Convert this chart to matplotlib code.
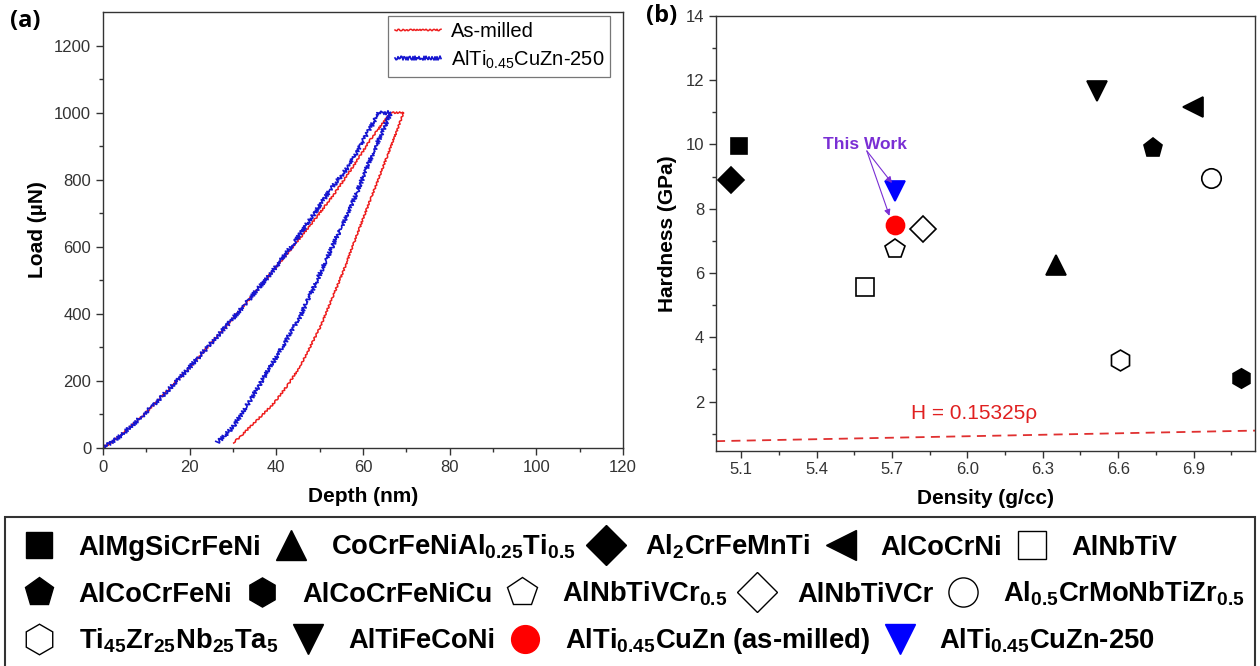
import matplotlib
matplotlib.use('Agg')
import matplotlib.pyplot as plt
from matplotlib.lines import Line2D
from matplotlib.patches import Rectangle
import numpy as np

# (a) load-depth curves: loading -> hold -> unloading
red_depth = [0, 4, 9.3, 14.5, 20.1, 27.5, 33.5, 39.4, 44.5, 49.4, 53.5, 57.8, 61.7, 66.4,
             69.4, 65.6, 61.7, 58.6, 55.6, 50.2, 45.5, 42.5, 39.4, 36.5, 34.0, 31.8, 30.1]
red_load = [0, 36, 98, 165, 242, 349, 439, 531, 610, 690, 760, 840, 919, 1000,
            1000, 870, 740, 635, 531, 362, 243, 185, 133, 95, 64, 35, 16]
blue_depth = [0, 4, 9.3, 14.5, 20.1, 27.5, 33.5, 39.4, 44.3, 48.8, 52.5, 56.7, 60.2, 63.7,
              66.4, 62.0, 57.9, 54.0, 50.5, 45.5, 40.1, 34.0, 30.1, 28.0, 26.3]
blue_load = [0, 36, 98, 165, 242, 349, 439, 531, 615, 700, 770, 840, 919, 1000,
             1000, 870, 740, 630, 531, 392, 273, 143, 64, 35, 16]

# (b) hardness vs density
alloys = ['AlMgSiCrFeNi', r'CoCrFeNiAl$_{\mathregular{0.25}}$Ti$_{\mathregular{0.5}}$',
          r'Al$_{\mathregular{2}}$CrFeMnTi', 'AlCoCrNi', 'AlNbTiV',
          'AlCoCrFeNi', 'AlCoCrFeNiCu', r'AlNbTiVCr$_{\mathregular{0.5}}$', 'AlNbTiVCr',
          r'Al$_{\mathregular{0.5}}$CrMoNbTiZr$_{\mathregular{0.5}}$',
          r'Ti$_{\mathregular{45}}$Zr$_{\mathregular{25}}$Nb$_{\mathregular{25}}$Ta$_{\mathregular{5}}$',
          'AlTiFeCoNi', r'AlTi$_{\mathregular{0.45}}$CuZn (as-milled)',
          r'AlTi$_{\mathregular{0.45}}$CuZn-250']
density = [5.09, 6.354, 5.059, 6.897, 5.591, 6.737, 7.09, 5.713, 5.823, 6.968, 6.607, 6.515, 5.713, 5.713]
hardness = [9.96, 6.25, 8.90, 11.18, 5.58, 9.88, 2.74, 6.74, 7.38, 8.97, 3.29, 11.68, 7.50, 8.55]
markers = ['s', '^', 'D', '<', 's', 'p', 'h', 'p', 'D', 'o', 'h', 'v', 'o', 'v']
faces = ['black', 'black', 'black', 'black', 'white', 'black', 'black', 'white', 'white',
         'white', 'white', 'black', 'red', 'blue']
edges = ['black'] * 12 + ['red', 'blue']
sizes = [12, 14, 13, 14, 13, 14, 14, 15, 13, 14, 15, 14, 13, 15]
legend_rows = [[0, 1, 2, 3, 4], [5, 6, 7, 8, 9], [10, 11, 12, 13]]

slope = 0.15325  # H = 0.15325 * rho

plt.rcParams['font.family'] = ['Liberation Sans', 'DejaVu Sans']

fig = plt.figure(figsize=(12.6, 6.66), dpi=100)
ax1 = fig.add_axes([0.0817, 0.3273, 0.4127, 0.6547])
ax2 = fig.add_axes([0.5683, 0.3233, 0.4278, 0.6527])

# ---- panel (a)
l1, = ax1.plot(red_depth, red_load, color='#ee1c1c', lw=1.1, label='As-milled')
l2, = ax1.plot(blue_depth, blue_load, color='#1515d0', lw=1.2,
               label=r'AlTi$_{\mathregular{0.45}}$CuZn-250')
l1.set_sketch_params(scale=0.8, length=4, randomness=2)
l2.set_sketch_params(scale=2.0, length=3, randomness=2)
ax1.set_xlim(0, 120)
ax1.set_ylim(0, 1300)
ax1.set_xticks(np.arange(0, 121, 20))
ax1.set_xticks(np.arange(10, 120, 20), minor=True)
ax1.set_yticks(np.arange(0, 1201, 200))
ax1.set_yticks(np.arange(100, 1300, 200), minor=True)
ax1.set_xlabel('Depth (nm)', fontsize=15, fontweight='bold', labelpad=9)
ax1.set_ylabel('Load (\u00b5N)', fontsize=15, fontweight='bold', labelpad=5)
leg = ax1.legend(loc='upper right', fontsize=14.5, frameon=True, fancybox=False,
                 handlelength=2.3, handletextpad=0.5, borderpad=0.3, labelspacing=0.35,
                 borderaxespad=0, bbox_to_anchor=(0.976, 0.99))
leg.get_frame().set_edgecolor('#555555')
leg.get_frame().set_linewidth(0.9)

# ---- panel (b)
for i in range(len(density)):
    ax2.plot(density[i], hardness[i], linestyle='none', marker=markers[i],
             markersize=sizes[i], markerfacecolor=faces[i], markeredgecolor=edges[i],
             markeredgewidth=1.2, zorder=3)
xs = np.array([5.0, 7.145])
ax2.plot(xs, slope * xs, color='#e03030', lw=1.3, dashes=(5, 3.5))
ax2.text(6.027, 1.63, 'H = 0.15325\u03c1', color='#e02020', fontsize=15,
         va='center', ha='center')
purple = '#7a2fd4'
ax2.text(5.594, 10.0, 'This Work', color=purple, fontsize=12.5, fontweight='bold',
         ha='center', va='center')
for target in [(5.70, 8.80), (5.69, 7.78)]:
    ax2.annotate('', xy=target, xytext=(5.6, 9.8),
                 arrowprops=dict(arrowstyle='-|>', color=purple, lw=0.8,
                                 mutation_scale=9, shrinkA=0, shrinkB=0))
ax2.set_xlim(5.0, 7.145)
ax2.set_ylim(0.47, 14)
ax2.set_xticks([5.1, 5.4, 5.7, 6.0, 6.3, 6.6, 6.9])
ax2.set_xticks([5.25, 5.55, 5.85, 6.15, 6.45, 6.75, 7.05], minor=True)
ax2.set_yticks(np.arange(2, 15, 2))
ax2.set_yticks(np.arange(1, 14, 2), minor=True)
ax2.set_xlabel('Density (g/cc)', fontsize=15, fontweight='bold', labelpad=8)
ax2.set_ylabel('Hardness (GPa)', fontsize=15, fontweight='bold', labelpad=6)

for ax in (ax1, ax2):
    ax.tick_params(which='both', direction='out', top=False, right=False,
                   labelsize=12, labelcolor='#333333', color='#333333')
    ax.tick_params(which='major', length=5, width=1)
    ax.tick_params(which='minor', length=3, width=1)
    for s in ax.spines.values():
        s.set_linewidth(1.0)
        s.set_color('#333333')

fig.text(0.008, 0.986, '(a)', fontsize=17, fontweight='bold', va='top',
         family=['Open Sans', 'DejaVu Sans'])
fig.text(0.513, 0.994, '(b)', fontsize=17, fontweight='bold', va='top',
         family=['Open Sans', 'DejaVu Sans'])

# ---- shared legend box along the bottom
fig.patches.append(Rectangle((0.004, -0.05), 0.992, 0.274, transform=fig.transFigure,
                             facecolor='none', edgecolor='#333333', lw=1.5))
row_y = [0.179, 0.108, 0.037]
for row, yy in zip(legend_rows, row_y):
    handles = [Line2D([], [], linestyle='none', marker=markers[i], markersize=sizes[i] + 7,
                      markerfacecolor=faces[i], markeredgecolor=edges[i], markeredgewidth=1.0)
               for i in row]
    fig.legend(handles, [alloys[i] for i in row], loc='center left',
               bbox_to_anchor=(0.008, yy), ncol=len(row), frameon=False,
               prop={'weight': 'bold', 'size': 19.75},
               handlelength=1.3, handletextpad=0.8, columnspacing=0.44, borderaxespad=0)

fig.savefig('out.png', dpi=100)
